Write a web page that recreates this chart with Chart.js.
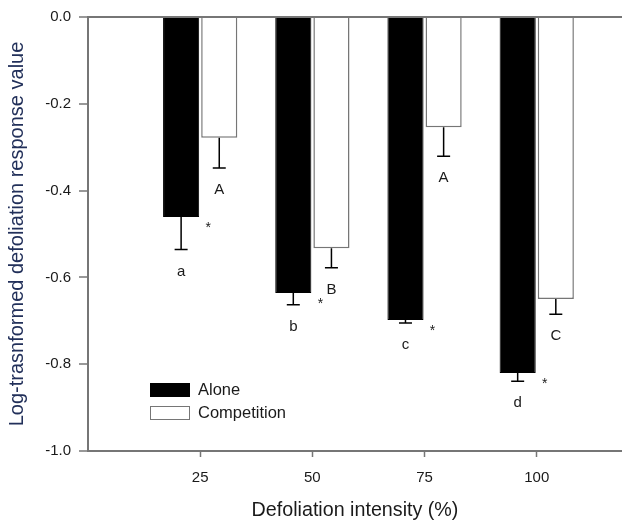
<!DOCTYPE html>
<html lang="en">
<head>
  <meta charset="UTF-8" />
  <title>Defoliation response</title>
  <script src="https://cdn.jsdelivr.net/npm/chart.js"></script>
  <style>
    body { margin: 0; background: #fff; }
    canvas { display: block; }
  </style>
</head>
<body>
  <canvas id="chart" width="622" height="522"></canvas>
  <script>
    // values
    const intensity = [25, 50, 75, 100];
    const alone = [-0.461, -0.636, -0.698, -0.820];
    const aloneErr = [0.075, 0.027, 0.007, 0.019];
    const competition = [-0.278, -0.533, -0.254, -0.650];
    const competitionErr = [0.070, 0.045, 0.067, 0.035];
    const aloneLetters = ['a', 'b', 'c', 'd'];
    const competitionLetters = ['A', 'B', 'A', 'C'];
    const significant = [true, true, true, true];
    const yTicks = [0, -0.2, -0.4, -0.6, -0.8, -1.0];

    const FONT = "'Liberation Sans', Arial, sans-serif";
    const AXIS = '#767676';
    const TEXT = '#1a1a1a';

    // error bars, letters and asterisks drawn on top of the bars
    const annotations = {
      id: 'annotations',
      afterDatasetsDraw(chart) {
        const ctx = chart.ctx;
        const y = chart.scales.y;
        ctx.save();
        chart.data.datasets.forEach((ds, di) => {
          const meta = chart.getDatasetMeta(di);
          meta.data.forEach((bar, i) => {
            const end = y.getPixelForValue(ds.data[i].y - ds.err[i]);
            ctx.strokeStyle = '#000';
            ctx.lineWidth = 1.5;
            ctx.beginPath();
            ctx.moveTo(bar.x, bar.y);
            ctx.lineTo(bar.x, end);
            ctx.moveTo(bar.x - 6.5, end);
            ctx.lineTo(bar.x + 6.5, end);
            ctx.stroke();

            ctx.fillStyle = TEXT;
            ctx.font = '15px ' + FONT;
            ctx.textAlign = 'center';
            ctx.textBaseline = 'middle';
            ctx.fillText(ds.letters[i], bar.x, end + 22);

            if (di === 0 && significant[i]) {
              ctx.font = '14px ' + FONT;
              ctx.fillText('*', bar.x + bar.width / 2 + 9, bar.y + 11);
            }
          });
        });
        ctx.restore();
      }
    };

    const boxLegend = {
      id: 'boxLegend',
      afterDraw(chart) {
        const ctx = chart.ctx;
        ctx.save();
        chart.data.datasets.forEach((ds, i) => {
          const top = 383 + i * 23;
          ctx.fillStyle = ds.backgroundColor;
          ctx.fillRect(150, top, 40, 14);
          ctx.strokeStyle = i === 0 ? '#000' : AXIS;
          ctx.lineWidth = 1;
          ctx.strokeRect(150.5, top + 0.5, 39, 13);
          ctx.fillStyle = TEXT;
          ctx.font = '16.5px ' + FONT;
          ctx.textAlign = 'left';
          ctx.textBaseline = 'middle';
          ctx.fillText(ds.label, 198, top + 7.5);
        });
        ctx.restore();
      }
    };

    new Chart(document.getElementById('chart'), {
      type: 'bar',
      data: {
        datasets: [
          {
            label: 'Alone',
            data: intensity.map((x, i) => ({ x, y: alone[i] })),
            err: aloneErr,
            letters: aloneLetters,
            backgroundColor: '#000',
            borderColor: '#000',
            borderWidth: 1
          },
          {
            label: 'Competition',
            data: intensity.map((x, i) => ({ x, y: competition[i] })),
            err: competitionErr,
            letters: competitionLetters,
            backgroundColor: '#fff',
            borderColor: AXIS,
            borderWidth: 1.5
          }
        ]
      },
      options: {
        responsive: false,
        animation: false,
        categoryPercentage: 0.68,
        barPercentage: 0.947,
        layout: { padding: { top: 15, right: 0, left: 0, bottom: 0 } },
        plugins: { legend: { display: false }, tooltip: { enabled: false } },
        scales: {
          x: {
            type: 'linear',
            offset: false,
            min: 0,
            max: 119,
            afterBuildTicks: s => { s.ticks = intensity.map(v => ({ value: v })); },
            afterFit: s => { s.height = 71; },
            ticks: { font: { family: FONT, size: 15 }, color: TEXT, padding: 12 },
            grid: { offset: false, drawOnChartArea: false, tickLength: 6, tickColor: AXIS, tickWidth: 1.5 },
            border: { color: AXIS, width: 2 },
            title: {
              display: true,
              text: 'Defoliation intensity (%)',
              font: { family: FONT, size: 19.7 },
              color: TEXT,
              padding: { top: 0, bottom: 0 }
            }
          },
          y: {
            min: -1,
            max: 0,
            afterBuildTicks: s => { s.ticks = yTicks.map(v => ({ value: v })); },
            afterFit: s => { s.width = 88; },
            ticks: {
              font: { family: FONT, size: 15 },
              color: TEXT,
              padding: 8,
              callback: v => (Math.abs(v) < 1e-9 ? 0 : v).toFixed(1)
            },
            grid: {
              drawOnChartArea: true,
              color: c => (c.tick && Math.abs(c.tick.value) < 1e-9 ? AXIS : 'rgba(0,0,0,0)'),
              lineWidth: 2,
              tickLength: 9,
              tickColor: AXIS,
              tickWidth: 1.5
            },
            border: { color: AXIS, width: 2 },
            title: {
              display: true,
              text: 'Log-trasnformed defoliation response value',
              font: { family: FONT, size: 20 },
              color: '#22305a',
              padding: { top: 5, bottom: 0 }
            }
          }
        }
      },
      plugins: [annotations, boxLegend]
    });
  </script>
</body>
</html>
